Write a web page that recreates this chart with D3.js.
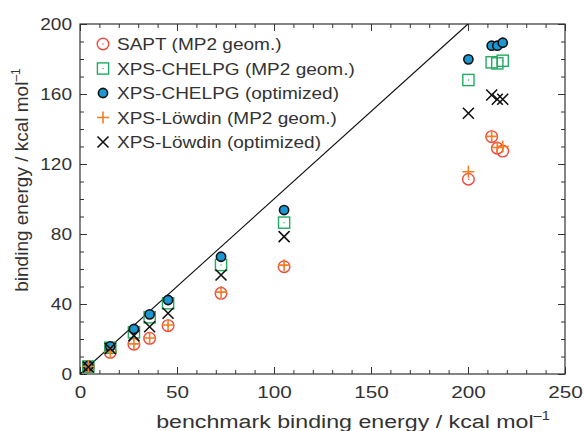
<!DOCTYPE html>
<html><head><meta charset="utf-8">
<script src="https://cdn.jsdelivr.net/npm/d3@7"></script>
<style>
body{margin:0;background:#fff}
svg{display:block}
text{font-family:"Liberation Sans",Arial,Helvetica,sans-serif;fill:#333}
</style>
</head><body><svg id="c" width="584" height="431"></svg>
<script>
// ---- data ----
const benchmark = [4.3, 15.6, 27.8, 35.9, 45.4, 72.7, 105.2, 200.2, 212.2, 215.1, 217.9];
const saptMP2   = [4.2, 12.4, 17.0, 20.4, 27.6, 46.1, 61.3, 111.3, 135.6, 129.0, 127.4];
const chelpgMP2 = [4.3, 15.0, 23.8, 32.4, 40.4, 62.3, 86.5, 168.0, 178.1, 177.5, 179.0];
const chelpgOpt = [4.6, 15.8, 25.7, 34.1, 42.3, 67.0, 93.7, 179.8, 187.6, 187.6, 189.3];
const lowdinMP2 = [4.4, 12.6, 17.2, 20.6, 28.0, 46.8, 62.2, 115.6, 135.8, 129.4, 130.0];
const lowdinOpt = [4.0, 14.6, 21.9, 27.0, 34.7, 56.6, 78.5, 149.0, 159.4, 157.0, 157.0];
const seriesNames = ["SAPT (MP2 geom.)", "XPS-CHELPG (MP2 geom.)", "XPS-CHELPG (optimized)", "XPS-Löwdin (MP2 geom.)", "XPS-Löwdin (optimized)"];
const xTickLabels = [0, 50, 100, 150, 200, 250];
const yTickLabels = [0, 40, 80, 120, 160, 200];
const xTitle = "benchmark binding energy / kcal mol";
const yTitle = "binding energy / kcal mol";

// ---- layout ----
const svg = d3.select("#c");
const L = 80, R = 565, T = 24, B = 374;
const x = d3.scaleLinear().domain([0, 250]).range([L, R]);
const y = d3.scaleLinear().domain([0, 200]).range([B, T]);
const axisColor = "#333";

// frame + ticks
const xTicks = d3.range(0, 251, 10);
const yTicks = d3.range(0, 201, 10);
function styleAxis(g, majorTest, isX) {
  g.select(".domain").remove();
  g.selectAll(".tick line").attr("stroke", axisColor).attr("stroke-width", 1);
}
const gB = svg.append("g").attr("transform", `translate(0,${B})`)
  .call(d3.axisBottom(x).tickValues(xTicks).tickSizeOuter(0).tickSize(-4).tickPadding(12)
    .tickFormat(d => xTickLabels.includes(d) ? d : ""));
gB.select(".domain").remove();
gB.selectAll(".tick line").attr("stroke", axisColor).attr("y2", d => d % 50 === 0 ? -7 : -4);
gB.selectAll(".tick text").attr("font-size", 17).attr("fill", "#333")
  .attr("transform", "scale(1.22,1)");

const gT = svg.append("g").attr("transform", `translate(0,${T})`)
  .call(d3.axisTop(x).tickValues(xTicks).tickSizeOuter(0).tickSize(-4).tickFormat(""));
gT.select(".domain").remove();
gT.selectAll(".tick line").attr("stroke", axisColor).attr("y2", d => d % 50 === 0 ? 7 : 4);

const sxY = 1.12;
const gL = svg.append("g").attr("transform", `translate(${L},0)`)
  .call(d3.axisLeft(y).tickValues(yTicks).tickSizeOuter(0).tickSize(-4).tickPadding(8)
    .tickFormat(d => yTickLabels.includes(d) ? d : ""));
gL.select(".domain").remove();
gL.selectAll(".tick line").attr("stroke", axisColor).attr("x2", d => d % 40 === 0 ? 7 : 4);
gL.selectAll(".tick text").attr("font-size", 17).attr("fill", "#333")
  .attr("x", -8 / sxY).attr("transform", `scale(${sxY},1)`);

const gR = svg.append("g").attr("transform", `translate(${R},0)`)
  .call(d3.axisRight(y).tickValues(yTicks).tickSizeOuter(0).tickSize(-4).tickFormat(""));
gR.select(".domain").remove();
gR.selectAll(".tick line").attr("stroke", axisColor).attr("x2", d => d % 40 === 0 ? -7 : -4);

svg.append("rect").attr("x", L).attr("y", T).attr("width", R - L).attr("height", B - T)
  .attr("fill", "none").attr("stroke", axisColor).attr("stroke-width", 1.2);

// diagonal y = x
svg.append("line").attr("x1", x(0)).attr("y1", y(0)).attr("x2", x(200)).attr("y2", y(200))
  .attr("stroke", "#111").attr("stroke-width", 1.1);

// ---- markers ----
const cRed = "#f0493a", cGreen = "#22aa62", cBlue = "#1b97d3", cOrange = "#f47c22", cBlack = "#111";
const markers = [
  (g) => { g.append("circle").attr("r", 5.8).attr("fill", "none").attr("stroke", cRed).attr("stroke-width", 1.4);
           g.append("circle").attr("r", 0.7).attr("fill", cRed); },
  (g) => { g.append("rect").attr("x", -5.6).attr("y", -5.6).attr("width", 11.2).attr("height", 11.2)
             .attr("fill", "none").attr("stroke", cGreen).attr("stroke-width", 1.4);
           g.append("circle").attr("r", 0.7).attr("fill", cGreen); },
  (g) => { g.append("circle").attr("r", 4.6).attr("fill", cBlue).attr("stroke", cBlack).attr("stroke-width", 1.6); },
  (g) => { g.append("path").attr("d", "M-6,0H6M0,-6V6").attr("stroke", cOrange).attr("stroke-width", 1.6).attr("fill", "none"); },
  (g) => { g.append("path").attr("d", "M-5.5,-5.5L5.5,5.5M-5.5,5.5L5.5,-5.5").attr("stroke", cBlack).attr("stroke-width", 1.6).attr("fill", "none"); }
];
const seriesVals = [saptMP2, chelpgMP2, chelpgOpt, lowdinMP2, lowdinOpt];

seriesVals.forEach((vals, si) => {
  const g = svg.append("g");
  g.selectAll("g").data(vals.map((v, i) => [benchmark[i], v])).join("g")
    .attr("transform", d => `translate(${x(d[0])},${y(d[1])})`)
    .each(function () { markers[si](d3.select(this)); });
});

// ---- legend ----
const legY = [44, 68.5, 93, 117.5, 142];
seriesNames.forEach((name, i) => {
  const g = svg.append("g").attr("transform", `translate(103,${legY[i]})`);
  markers[i](g);
  svg.append("text").attr("transform", `translate(117,${legY[i] + 6}) scale(1.12,1)`)
    .attr("font-size", 17).text(name);
});

// ---- titles ----
const xt = svg.append("text").attr("transform", "translate(353,428) scale(1.22,1)")
  .attr("text-anchor", "middle").attr("font-size", 19);
xt.append("tspan").text(xTitle);
xt.append("tspan").attr("font-size", 12).attr("dy", -8).text("–1");

const yt = svg.append("text").attr("transform", "translate(28,180) rotate(-90)")
  .attr("text-anchor", "middle").attr("font-size", 19);
yt.append("tspan").text(yTitle);
yt.append("tspan").attr("font-size", 12).attr("dy", -8).text("–1");
</script>
</body></html>
